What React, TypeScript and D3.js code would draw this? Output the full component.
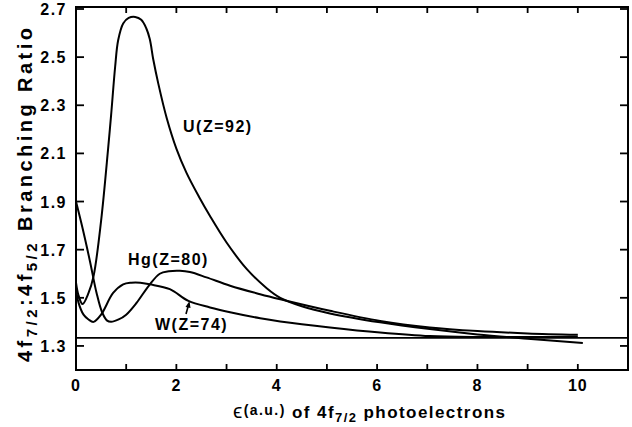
import React from "react";
import * as d3 from "d3";

const uX = [0, 0.05, 0.13, 0.25, 0.35, 0.5, 0.64, 0.7, 0.78, 0.84, 0.94, 1.05, 1.18, 1.3, 1.4, 1.47, 1.54, 1.64, 1.81, 2.0, 2.2, 2.45, 2.67, 3.0, 3.4, 3.8, 4.07, 4.5, 5.06, 6.06, 7.05, 8.0, 9.0, 10.1];
const uY = [1.563, 1.51, 1.474, 1.52, 1.59, 1.82, 2.12, 2.26, 2.46, 2.57, 2.64, 2.663, 2.667, 2.655, 2.62, 2.575, 2.49, 2.39, 2.245, 2.12, 2.02, 1.92, 1.84, 1.73, 1.62, 1.54, 1.5, 1.465, 1.435, 1.398, 1.37, 1.348, 1.33, 1.312];

const hgX = [0, 0.13, 0.28, 0.41, 0.52, 0.62, 0.7, 0.85, 1.0, 1.21, 1.45, 1.67, 1.85, 2.07, 2.27, 2.6, 3.07, 3.67, 4.07, 5.06, 6.06, 7.05, 8.0, 9.0, 10.0];
const hgY = [1.9, 1.79, 1.65, 1.52, 1.44, 1.405, 1.4, 1.41, 1.43, 1.48, 1.55, 1.6, 1.61, 1.612, 1.607, 1.585, 1.55, 1.515, 1.494, 1.446, 1.404, 1.377, 1.362, 1.352, 1.346];

const wX = [0, 0.05, 0.15, 0.25, 0.35, 0.5, 0.74, 0.94, 1.1, 1.28, 1.47, 1.87, 2.24, 2.67, 3.07, 3.67, 4.07, 5.06, 6.06, 7.05, 8.0, 9.0, 10.0];
const wY = [1.535, 1.48, 1.43, 1.41, 1.4, 1.43, 1.52, 1.556, 1.563, 1.563, 1.556, 1.536, 1.487, 1.46, 1.44, 1.415, 1.402, 1.377, 1.356, 1.341, 1.337, 1.337, 1.338];

const statRatio = 4 / 3;
const xTickLabels = [0, 2, 4, 6, 8, 10];
const xMinorTicks = [1, 2, 3, 4, 5, 6, 7, 8, 9, 10];
const yTickLabels = ["1.3", "1.5", "1.7", "1.9", "2.1", "2.3", "2.5", "2.7"];

export default function App() {
  const W = 632, H = 427;
  const x = d3.scaleLinear().domain([0, 11]).range([76, 628]);
  const y = d3.scaleLinear().domain([1.2, 2.7]).range([370, 9]);
  const line = d3
    .line<[number, number]>()
    .x((d) => x(d[0]))
    .y((d) => y(d[1]))
    .curve(d3.curveCatmullRom.alpha(0.5));
  const mk = (xs: number[], ys: number[]) => line(xs.map((v, i) => [v, ys[i]] as [number, number])) || "";
  const font = "'Liberation Sans', Arial, Helvetica, sans-serif";
  const top = 7, bottom = 370, left = 76, right = 628;

  return (
    <svg width={W} height={H} style={{ position: "absolute", left: 0, top: 0, background: "#fff" }} fontFamily={font}>
      <rect x={0} y={0} width={W} height={H} fill="#fff" />
      <rect x={left} y={top} width={right - left} height={bottom - top} fill="none" stroke="#000" strokeWidth={2} />
      {xMinorTicks.map((t) => (
        <g key={"xt" + t}>
          <line x1={x(t)} x2={x(t)} y1={bottom} y2={bottom - 6} stroke="#000" strokeWidth={1.8} />
          <line x1={x(t)} x2={x(t)} y1={top} y2={top + 6} stroke="#000" strokeWidth={1.8} />
        </g>
      ))}
      {xTickLabels.map((t) => (
        <text key={"xl" + t} x={x(t)} y={391} textAnchor="middle" fontSize={16} fontWeight="bold" letterSpacing={1}>
          {t}
        </text>
      ))}
      {yTickLabels.map((t) => (
        <g key={"yt" + t}>
          <line x1={left} x2={left + 8} y1={y(+t)} y2={y(+t)} stroke="#000" strokeWidth={1.8} />
          <line x1={right} x2={right - 8} y1={y(+t)} y2={y(+t)} stroke="#000" strokeWidth={1.8} />
          <text x={67} y={y(+t) + 6} textAnchor="end" fontSize={16} fontWeight="bold" letterSpacing={1.5}>
            {t}
          </text>
        </g>
      ))}
      <line x1={left} x2={right} y1={y(statRatio)} y2={y(statRatio)} stroke="#000" strokeWidth={1.8} />
      <path d={mk(uX, uY)} fill="none" stroke="#000" strokeWidth={2} />
      <path d={mk(hgX, hgY)} fill="none" stroke="#000" strokeWidth={2} />
      <path d={mk(wX, wY)} fill="none" stroke="#000" strokeWidth={2} />
      <text x={183} y={132} fontSize={16} fontWeight="bold" letterSpacing={1.5}>U(Z=92)</text>
      <text x={128} y={265} fontSize={16} fontWeight="bold" letterSpacing={1.5}>Hg(Z=80)</text>
      <text x={155} y={330} fontSize={16} fontWeight="bold" letterSpacing={1.5}>W(Z=74)</text>
      <line x1={186} y1={314} x2={188.5} y2={305} stroke="#000" strokeWidth={1.6} />
      <path d={`M${189.5},${301} L${185.5},${307} L${190.5},${308} Z`} fill="#000" />
      <text x={233} y={418} fontSize={17} fontWeight="bold" textLength={272} lengthAdjust="spacing">
        <tspan fontSize={21} fontWeight="normal">ϵ</tspan>
        <tspan dy={-3} fontSize={14}>(a.u.)</tspan>
        <tspan dy={3}> of 4f</tspan>
        <tspan dy={4} fontSize={13}>7/2</tspan>
        <tspan dy={-4}> photoelectrons</tspan>
      </text>
      <text transform={`translate(32,362) rotate(-90)`} fontSize={20} fontWeight="bold" textLength={334} lengthAdjust="spacing">
        <tspan>4f</tspan>
        <tspan dy={5} fontSize={15}>7/2</tspan>
        <tspan dy={-5}>:4f</tspan>
        <tspan dy={5} fontSize={15}>5/2</tspan>
        <tspan dy={-5}> Branching Ratio</tspan>
      </text>
    </svg>
  );
}
